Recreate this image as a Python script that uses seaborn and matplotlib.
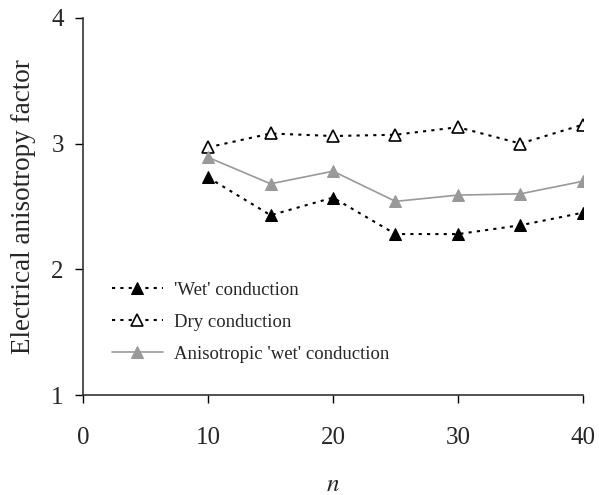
import numpy as np
import pandas as pd
import matplotlib
matplotlib.use("Agg")
import matplotlib.pyplot as plt
import seaborn as sns

sns.set_style("ticks")
plt.rcParams['font.family'] = ['Liberation Serif', 'DejaVu Serif']
plt.rcParams['mathtext.fontset'] = 'stix'

# data
n = [10, 15, 20, 25, 30, 35, 40]
wet = [2.73, 2.43, 2.57, 2.28, 2.28, 2.35, 2.45]
dry = [2.97, 3.08, 3.06, 3.07, 3.13, 3.00, 3.15]
aniso_wet = [2.89, 2.68, 2.78, 2.54, 2.59, 2.60, 2.70]

df = pd.DataFrame({'n': n, 'wet': wet, 'dry': dry, 'aniso': aniso_wet})

fig, ax = plt.subplots(figsize=(5.99, 4.95), dpi=100)

sns.lineplot(data=df, x='n', y='wet', ax=ax, color='black', linestyle=(0, (1.5, 2.5)),
             linewidth=1.5, marker='^', markersize=9, markerfacecolor='black',
             markeredgecolor='black', label="'Wet' conduction")
sns.lineplot(data=df, x='n', y='dry', ax=ax, color='black', linestyle=(0, (1.5, 2.5)),
             linewidth=1.5, marker='^', markersize=9, markerfacecolor='white',
             markeredgecolor='black', markeredgewidth=1.2, label='Dry conduction')
sns.lineplot(data=df, x='n', y='aniso', ax=ax, color='#999999', linewidth=1.2,
             marker='^', markersize=9, markerfacecolor='#999999',
             markeredgecolor='#999999', label="Anisotropic 'wet' conduction")

ax.set_xlim(0, 40)
ax.set_ylim(1, 4)
ax.set_xticks([0, 10, 20, 30, 40])
ax.set_yticks([1, 2, 3, 4])
ax.tick_params(labelsize=18, length=6, width=1, color='black')
ax.tick_params(axis='x', pad=17)
ax.tick_params(axis='y', pad=8)
sns.despine(ax=ax)
for s in ['left', 'bottom']:
    ax.spines[s].set_color('#333333')
    ax.spines[s].set_linewidth(1.2)

ax.set_xlabel('$n$', fontsize=18, labelpad=18)
ax.set_ylabel('Electrical anisotropy factor', fontsize=19.5, labelpad=11)

ax.legend(loc='lower left', bbox_to_anchor=(0.024, 0.04), frameon=False, fontsize=13.5,
          handlelength=2.7, labelspacing=0.8, handletextpad=0.6)

fig.subplots_adjust(left=0.139, right=0.973, top=0.964, bottom=0.202)
fig.savefig('out.png', dpi=100)
